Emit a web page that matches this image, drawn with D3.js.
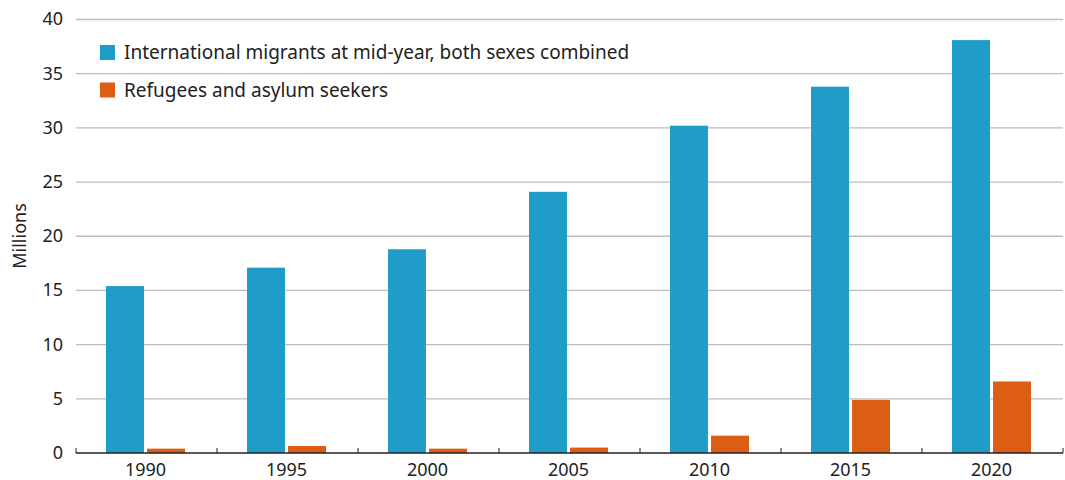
<!DOCTYPE html>
<html><head><meta charset="utf-8">
<script src="https://cdn.jsdelivr.net/npm/d3@7"></script>
<style>body{margin:0;background:#fff;} svg{display:block;font-family:"Source Sans Pro","Noto Sans",sans-serif;}</style>
</head><body><svg id="c" width="1065" height="480"></svg>
<script>
const years = ["1990","1995","2000","2005","2010","2015","2020"];
const migrants = [15.4, 17.1, 18.8, 24.1, 30.2, 33.8, 38.1];
const refugees = [0.4, 0.65, 0.4, 0.5, 1.6, 4.9, 6.6];
const seriesNames = ["International migrants at mid-year, both sexes combined", "Refugees and asylum seekers"];
const seriesColors = ["#1f9dc8", "#db5e14"];
const yTicks = [0,5,10,15,20,25,30,35,40];

(function(){
const svg = d3.select("#c");
const mLeft = 76, mRight = 1063, mTop = 19.5, mBottom = 453;
const x = d3.scaleBand().domain(years).range([mLeft, mRight]).paddingInner(0).paddingOuter(0);
const y = d3.scaleLinear().domain([0, 40]).range([mBottom, mTop]);
const inner = d3.scaleBand().domain([0,1]).range([0, 79]).paddingInner(0.075);

svg.append("g").selectAll("line").data(yTicks.filter(d=>d>0)).join("line")
  .attr("x1", mLeft).attr("x2", mRight).attr("y1", d=>y(d)).attr("y2", d=>y(d))
  .attr("stroke", "#bdbdbd").attr("stroke-width", 1.3);

svg.append("g").selectAll("text").data(yTicks).join("text")
  .attr("x", 63).attr("y", d=>y(d)).attr("dy", "0.33em").attr("text-anchor", "end")
  .attr("font-size", 18).attr("fill", "#222").text(d=>d);

svg.append("text").attr("transform", `translate(26,236) rotate(-90)`)
  .attr("text-anchor", "middle").attr("font-size", 18).attr("fill", "#222").text("Millions");

const data = years.map((yr,i)=>({yr, vals:[migrants[i], refugees[i]]}));
const g = svg.append("g").selectAll("g").data(data).join("g")
  .attr("transform", d=>`translate(${x(d.yr) + (x.bandwidth()-79)/2 - 1},0)`);
g.selectAll("rect").data(d=>d.vals.map((v,k)=>({v,k}))).join("rect")
  .attr("x", d=>inner(d.k)).attr("width", inner.bandwidth())
  .attr("y", d=>y(d.v)).attr("height", d=>mBottom - y(d.v))
  .attr("fill", d=>seriesColors[d.k]);

svg.append("line").attr("x1", mLeft).attr("x2", mRight).attr("y1", mBottom).attr("y2", mBottom)
  .attr("stroke", "#222").attr("stroke-width", 1.5);
const bounds = years.map(d=>x(d)).concat([mRight]);
svg.append("g").selectAll("line").data(bounds).join("line")
  .attr("x1", d=>d).attr("x2", d=>d).attr("y1", mBottom).attr("y2", mBottom-5)
  .attr("stroke", "#222").attr("stroke-width", 1);
svg.append("g").selectAll("text").data(years).join("text")
  .attr("x", d=>x(d)+x.bandwidth()/2 - 1).attr("y", 476).attr("text-anchor", "middle")
  .attr("font-size", 18).attr("fill", "#222").text(d=>d);

const lg = svg.append("g").selectAll("g").data(seriesNames).join("g")
  .attr("transform", (d,i)=>`translate(100,${45 + i*37.5})`);
lg.append("rect").attr("width", 15).attr("height", 15).attr("fill", (d,i)=>seriesColors[i]);
lg.append("text").attr("x", 24).attr("y", 7.5).attr("dy", "0.35em").attr("font-size", 19)
  .attr("fill", "#222").text(d=>d);
})();
</script></body></html>
